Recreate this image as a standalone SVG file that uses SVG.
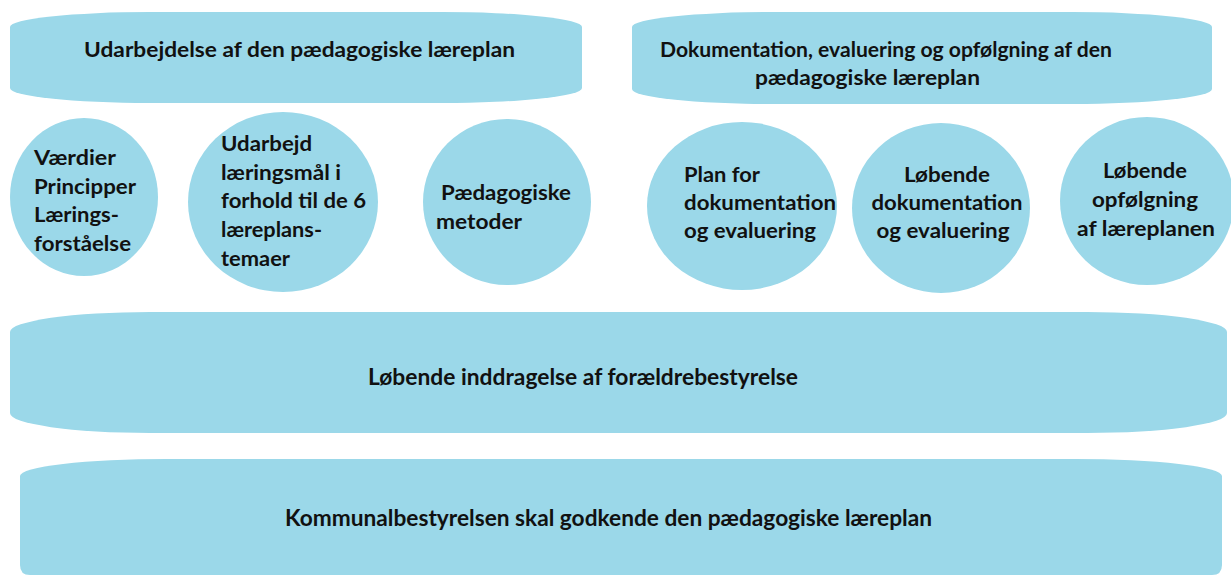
<svg xmlns="http://www.w3.org/2000/svg" width="1231" height="575" viewBox="0 0 1231 575">
<style>
.s{fill:#9bd8e9;}
.t{font-family:Lato,"Open Sans","Liberation Sans",sans-serif;font-weight:700;font-size:20px;fill:#111;}
.m{text-anchor:middle;}
.b{font-size:22px;}
</style>
<g id="box-udarbejdelse">
<rect class="s" x="10" y="12" width="572" height="91" rx="140" ry="15"/>
<text class="t" x="84" y="57" textLength="431" lengthAdjust="spacingAndGlyphs">Udarbejdelse af den pædagogiske læreplan</text>
</g>
<g id="box-dokumentation">
<rect class="s" x="632" y="12" width="580" height="92" rx="140" ry="15"/>
<text class="t" x="660" y="57" textLength="452" lengthAdjust="spacingAndGlyphs">Dokumentation, evaluering og opfølgning af den</text>
<text class="t" x="755" y="85" textLength="225" lengthAdjust="spacingAndGlyphs">pædagogiske læreplan</text>
</g>
<g id="circle-vaerdier">
<ellipse class="s" cx="84" cy="197" rx="74" ry="79"/>
<text class="t" x="34" y="165" textLength="82" lengthAdjust="spacingAndGlyphs">Værdier</text>
<text class="t" x="34" y="194" textLength="102" lengthAdjust="spacingAndGlyphs">Principper</text>
<text class="t" x="34" y="222" textLength="85" lengthAdjust="spacingAndGlyphs">Lærings-</text>
<text class="t" x="34" y="251" textLength="97" lengthAdjust="spacingAndGlyphs">forståelse</text>
</g>
<g id="circle-udarbejd">
<ellipse class="s" cx="283" cy="202" rx="95" ry="90"/>
<text class="t" x="221" y="151" textLength="91" lengthAdjust="spacingAndGlyphs">Udarbejd</text>
<text class="t" x="221" y="180" textLength="120" lengthAdjust="spacingAndGlyphs">læringsmål i</text>
<text class="t" x="221" y="208" textLength="145" lengthAdjust="spacingAndGlyphs">forhold til de 6</text>
<text class="t" x="221" y="237" textLength="101" lengthAdjust="spacingAndGlyphs">læreplans-</text>
<text class="t" x="221" y="266" textLength="69" lengthAdjust="spacingAndGlyphs">temaer</text>
</g>
<g id="circle-metoder">
<ellipse class="s" cx="507" cy="202" rx="84" ry="83"/>
<text class="t" x="441" y="200" textLength="130" lengthAdjust="spacingAndGlyphs">Pædagogiske</text>
<text class="t" x="436" y="229" textLength="86" lengthAdjust="spacingAndGlyphs">metoder</text>
</g>
<g id="circle-plan">
<ellipse class="s" cx="742" cy="206" rx="95" ry="84"/>
<text class="t" x="684" y="182" textLength="76" lengthAdjust="spacingAndGlyphs">Plan for</text>
<text class="t" x="684" y="210" textLength="152" lengthAdjust="spacingAndGlyphs">dokumentation</text>
<text class="t" x="684" y="238" textLength="132" lengthAdjust="spacingAndGlyphs">og evaluering</text>
</g>
<g id="circle-lobende-dok">
<ellipse class="s" cx="941" cy="208" rx="89" ry="85"/>
<text class="t m" x="947" y="182" textLength="86" lengthAdjust="spacingAndGlyphs">Løbende</text>
<text class="t m" x="947" y="210" textLength="151" lengthAdjust="spacingAndGlyphs">dokumentation</text>
<text class="t m" x="943" y="238" textLength="133" lengthAdjust="spacingAndGlyphs">og evaluering</text>
</g>
<g id="circle-lobende-opf">
<ellipse class="s" cx="1147" cy="201" rx="87" ry="84"/>
<text class="t m" x="1145" y="178" textLength="84" lengthAdjust="spacingAndGlyphs">Løbende</text>
<text class="t m" x="1145" y="207" textLength="106" lengthAdjust="spacingAndGlyphs">opfølgning</text>
<text class="t m" x="1146" y="236" textLength="138" lengthAdjust="spacingAndGlyphs">af læreplanen</text>
</g>
<g id="band-foraeldre">
<rect class="s" x="10" y="312" width="1217" height="121" rx="140" ry="20"/>
<text class="t b" x="368" y="385" textLength="430" lengthAdjust="spacingAndGlyphs">Løbende inddragelse af forældrebestyrelse</text>
</g>
<g id="band-kommunal">
<path class="s" d="M20,476 A147,17 0 0 1 167,459 L1075,459 A147,17 0 0 1 1222,476 L1222,565 Q1222,575 1212,575 L30,575 Q20,575 20,565 Z"/>
<text class="t b" x="285" y="526" textLength="647" lengthAdjust="spacingAndGlyphs">Kommunalbestyrelsen skal godkende den pædagogiske læreplan</text>
</g>
<g id="connectors"/>
</svg>
